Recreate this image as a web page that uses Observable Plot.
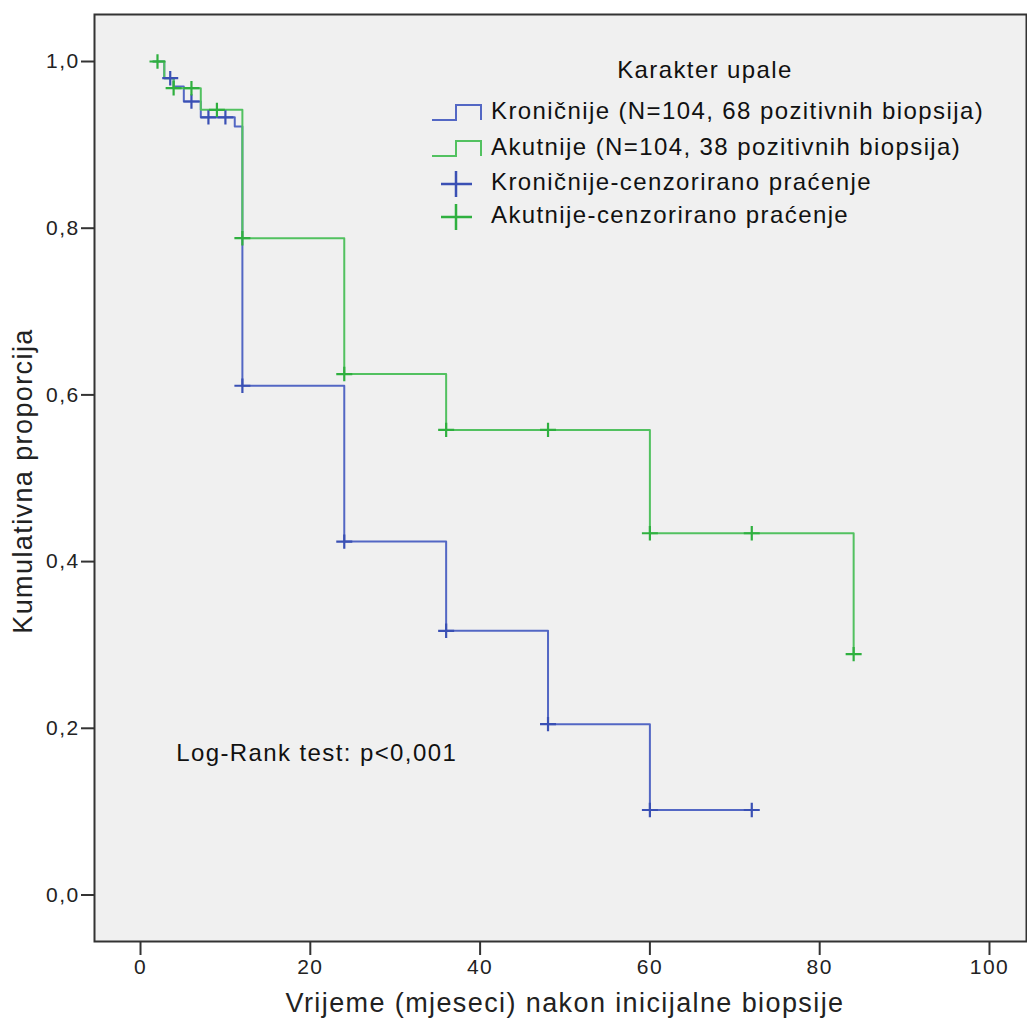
<!DOCTYPE html>
<html>
<head>
<meta charset="utf-8">
<script src="https://cdn.jsdelivr.net/npm/d3@7"></script>
<script src="https://cdn.jsdelivr.net/npm/@observablehq/plot@0.6"></script>
<style>
  html, body { margin: 0; padding: 0; background: #ffffff; }
  #chart { width: 1027px; height: 1023px; }
</style>
</head>
<body>
<div id="chart"></div>
<script>
// ---- data ----
const seriesNames = ["Kroničnije", "Akutnije"];
const legendTitle = "Karakter upale";
const legendLabels = [
  "Kroničnije (N=104, 68 pozitivnih biopsija)",
  "Akutnije (N=104, 38 pozitivnih biopsija)",
  "Kroničnije-cenzorirano praćenje",
  "Akutnije-cenzorirano praćenje"
];
// step curves (time in months, cumulative proportion)
const kronTime = [1.5, 2.8, 3.9, 5.1, 7.1, 11.1, 12, 24, 36, 48, 60, 72];
const kronSurv = [1.0, 0.980, 0.970, 0.952, 0.933, 0.922, 0.611, 0.424, 0.317, 0.205, 0.102, 0.102];
const akutTime = [1.5, 2.8, 3.9, 7.1, 12, 24, 36, 60, 84];
const akutSurv = [1.0, 0.980, 0.968, 0.942, 0.788, 0.625, 0.558, 0.434, 0.289];
// censored observations
const kronCensTime = [3.5, 6, 8, 10, 12, 24, 36, 48, 60, 72];
const kronCensSurv = [0.980, 0.952, 0.933, 0.933, 0.611, 0.424, 0.317, 0.205, 0.102, 0.102];
const akutCensTime = [2, 3.9, 6, 9, 12, 24, 36, 48, 60, 72, 84];
const akutCensSurv = [1.0, 0.968, 0.968, 0.942, 0.788, 0.625, 0.558, 0.558, 0.434, 0.434, 0.289];
// axes
const xTicks = [0, 20, 40, 60, 80, 100];
const yTicks = [0, 0.2, 0.4, 0.6, 0.8, 1.0];
const xLabel = "Vrijeme (mjeseci) nakon inicijalne biopsije";
const yLabel = "Kumulativna proporcija";
const note = "Log-Rank test: p<0,001";
const noteAt = {x: 4.2, y: 0.17};

const blueLine = "#5367c4", blueMark = "#3a50b4";
const greenLine = "#52c160", greenMark = "#2fb03f";
const FONT = "'Liberation Sans', Arial, sans-serif";

const toRows = (ts, ss) => ts.map((t, i) => ({t, s: ss[i]}));
const kron = toRows(kronTime, kronSurv);
const akut = toRows(akutTime, akutSurv);
const kronC = toRows(kronCensTime, kronCensSurv);
const akutC = toRows(akutCensTime, akutCensSurv);

const plusSymbol = {
  draw(ctx, size) {
    const r = Math.sqrt(size / Math.PI);
    ctx.moveTo(-r, 0); ctx.lineTo(r, 0);
    ctx.moveTo(0, -r * 0.9); ctx.lineTo(0, r * 0.9);
  }
};

const fmt = d => d.toFixed(1).replace(".", ",");

const chart = Plot.plot({
  width: 1027,
  height: 1023,
  marginLeft: 94,
  marginRight: 1,
  marginTop: 14,
  marginBottom: 82,
  style: {fontFamily: FONT, background: "#ffffff", color: "#222", letterSpacing: "1.4px"},
  x: {domain: [-5.42, 104.36]},
  y: {domain: [-0.0558, 1.0564]},
  marks: [
    Plot.frame({fill: "#f0f0f0", stroke: null}),
    Plot.axisX({ticks: xTicks, tickSize: 14, tickPadding: 4, fontSize: 21, label: null, strokeWidth: 2, stroke: "#333", tickFormat: d => String(d)}),
    Plot.axisY({ticks: yTicks, tickSize: 13, tickPadding: 2, fontSize: 21, label: null, strokeWidth: 2, stroke: "#333", tickFormat: fmt}),
    Plot.line(kron, {x: "t", y: "s", curve: "step-after", stroke: blueLine, strokeWidth: 2}),
    Plot.line(akut, {x: "t", y: "s", curve: "step-after", stroke: greenLine, strokeWidth: 2}),
    Plot.dot(kronC, {x: "t", y: "s", symbol: plusSymbol, r: 8, fill: "none", stroke: blueMark, strokeWidth: 2.2}),
    Plot.dot(akutC, {x: "t", y: "s", symbol: plusSymbol, r: 8, fill: "none", stroke: greenMark, strokeWidth: 2.2}),
    Plot.text([note], {x: () => noteAt.x, y: () => noteAt.y, text: d => d, textAnchor: "start", fontSize: 24, fill: "#111"}),
    Plot.frame({stroke: "#333", strokeWidth: 2})
  ]
});

document.getElementById("chart").appendChild(chart);

// ---- titles and legend ----
const svg = d3.select(chart);
svg.append("text")
  .attr("x", 565).attr("y", 1005)
  .attr("text-anchor", "middle").attr("dominant-baseline", "middle")
  .attr("font-size", 27).attr("fill", "#222")
  .text(xLabel);
svg.append("text")
  .attr("transform", "translate(25,481) rotate(-90)")
  .attr("text-anchor", "middle").attr("dominant-baseline", "middle")
  .attr("font-size", 27).attr("fill", "#222")
  .text(yLabel);

const lg = svg.append("g").attr("font-size", 24).attr("fill", "#111");
lg.append("text").attr("x", 705).attr("y", 72)
  .attr("text-anchor", "middle").attr("dominant-baseline", "middle").text(legendTitle);
const rowY = [113, 149, 184, 217];
const colors = [blueLine, greenLine, blueMark, greenMark];
legendLabels.forEach((lab, i) => {
  const y = rowY[i];
  if (i < 2) {
    lg.append("path")
      .attr("d", `M432,${y + 7}H456V${y - 8}H481V${y + 7}`)
      .attr("fill", "none").attr("stroke", colors[i]).attr("stroke-width", 2);
  } else {
    lg.append("path")
      .attr("d", `M441,${y}H472M456,${y - 13}V${y + 13}`)
      .attr("fill", "none").attr("stroke", colors[i]).attr("stroke-width", 2.5);
  }
  lg.append("text").attr("x", 491).attr("y", y)
    .attr("text-anchor", "start")
    .attr("dominant-baseline", "middle").text(lab);
});
</script>
</body>
</html>
